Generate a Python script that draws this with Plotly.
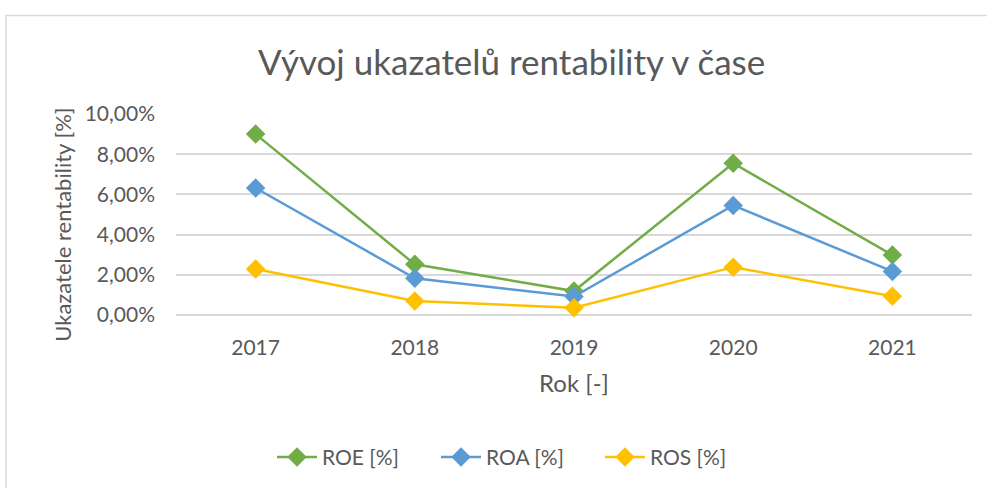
import plotly.graph_objects as go

# data (fractions, shown as %)
roky = ["2017", "2018", "2019", "2020", "2021"]
roe = [0.0900, 0.0252, 0.0119, 0.0755, 0.0298]
roa = [0.0632, 0.0183, 0.0092, 0.0545, 0.0217]
ros = [0.0229, 0.0070, 0.0036, 0.0238, 0.0093]

serie = [
    ("ROE [%]", roe, "#70AD47"),
    ("ROA [%]", roa, "#5B9BD5"),
    ("ROS [%]", ros, "#FFC000"),
]

text_color = "#595959"
grid_color = "#D9D9D9"
font_name = "Lato, Liberation Sans, sans-serif"

fig = go.Figure()
for nazev, hodnoty, barva in serie:
    fig.add_trace(go.Scatter(
        x=roky, y=hodnoty, name=nazev, mode="lines+markers",
        line=dict(color=barva, width=2.5),
        marker=dict(symbol="diamond", size=15, color=barva),
        cliponaxis=False,
    ))

fig.update_layout(
    width=987, height=488,
    margin=dict(l=176, r=15, t=114, b=172),
    paper_bgcolor="white", plot_bgcolor="white",
    separators=", ",
    font=dict(family=font_name, color=text_color, size=21),
    showlegend=True,
    legend=dict(orientation="h", x=0.1206, xanchor="left", y=-0.70, yanchor="middle",
                font=dict(size=21, color=text_color), itemwidth=40,
                entrywidth=109, entrywidthmode="pixels"),
    annotations=[
        dict(text="Vývoj ukazatelů rentability v čase", xref="paper", yref="paper",
             x=0.421, y=1.265, xanchor="center", yanchor="middle", showarrow=False,
             font=dict(size=35, color=text_color, family=font_name)),
        # y axis title placed like in the original (slightly below plot centre)
        dict(text="Ukazatele rentability [%]", xref="paper", yref="paper",
             x=-0.143, y=0.45, xanchor="center", yanchor="middle", textangle=-90,
             showarrow=False, font=dict(size=22, color=text_color, family=font_name)),
    ],
    shapes=[
        dict(type="rect", xref="paper", yref="paper",
             x0=-0.2136, x1=1.1, y0=1.49, y1=-1.2,
             line=dict(color=grid_color, width=1.5), layer="below"),
    ],
)

fig.update_xaxes(
    type="category", range=[-0.5, 4.5], showgrid=False, showline=False, ticks="",
    tickfont=dict(size=21, color=text_color), ticklabelstandoff=18,
    title=dict(text="Rok [-]", font=dict(size=24, color=text_color), standoff=17),
)
fig.update_yaxes(
    range=[0, 0.10], dtick=0.02, tickformat=".2%",
    showgrid=True, gridcolor=grid_color, gridwidth=1.5,
    zeroline=True, zerolinecolor=grid_color, zerolinewidth=1.5,
    showline=False, ticks="", ticklabelstandoff=20,
    tickfont=dict(size=21, color=text_color),
)

# the page has a default 8px body margin; remove it so the chart sits at 0,0
fig.write_html("out.html", config={"displayModeBar": False},
               post_script="document.body.style.margin='0';")
